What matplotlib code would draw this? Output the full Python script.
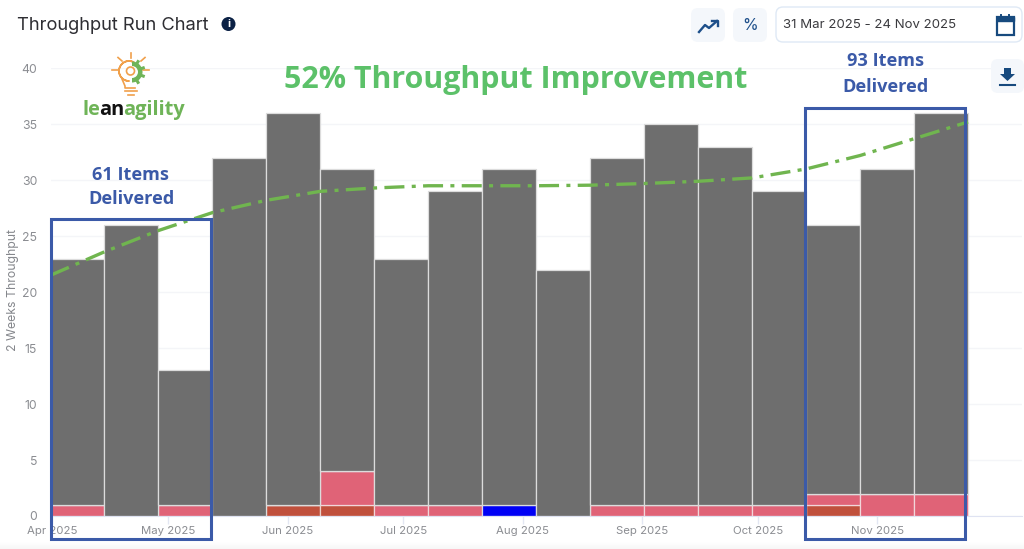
import matplotlib
matplotlib.use("Agg")
import matplotlib.pyplot as plt
import matplotlib.dates as mdates
from matplotlib.patches import Rectangle, FancyBboxPatch, Circle, Wedge, Polygon
import numpy as np
import pandas as pd

period_starts = pd.date_range("2025-03-31", periods=17, freq="14D")
totals = [23, 26, 13, 32, 36, 31, 23, 29, 31, 22, 32, 35, 33, 29, 26, 31, 36]
dark_red = [0, 0, 0, 0, 1, 1, 0, 0, 0, 0, 0, 0, 0, 0, 1, 0, 0]
pink = [1, 0, 1, 0, 0, 3, 1, 1, 0, 0, 1, 1, 1, 1, 1, 2, 2]
blue = [0, 0, 0, 0, 0, 0, 0, 0, 1, 0, 0, 0, 0, 0, 0, 0, 0]
trend_dates = pd.date_range("2025-03-31", periods=18, freq="14D")
trend_values = [21.5, 23.6, 25.5, 27.1, 28.2, 29.0, 29.3, 29.5, 29.5, 29.5,
                29.55, 29.7, 29.9, 30.2, 31.0, 32.2, 33.7, 35.2]
y_ticks = [0, 5, 10, 15, 20, 25, 30, 35, 40]
month_ticks = ["2025-04-01", "2025-05-01", "2025-06-01", "2025-07-01",
               "2025-08-01", "2025-09-01", "2025-10-01", "2025-11-01"]
month_labels = ["Apr 2025", "May 2025", "Jun 2025", "Jul 2025",
                "Aug 2025", "Sep 2025", "Oct 2025", "Nov 2025"]

W, H = 1024, 549
plt.rcParams["font.family"] = ["Inter", "DejaVu Sans"]
fig = plt.figure(figsize=(W / 100, H / 100), dpi=100, facecolor="white")

L, R, T, B = 50.5, 1022, 68.2, 516
ax = fig.add_axes([L / W, 1 - B / H, (R - L) / W, (B - T) / H])
ax.set_facecolor("none")
ax.set_axisbelow(True)

starts = mdates.date2num(period_starts)
tot = np.array(totals)
dk, pk, bl = np.array(dark_red), np.array(pink), np.array(blue)
rest = tot - dk - pk - bl
kw = dict(width=14, align="edge", linewidth=0.9)
ax.bar(starts, dk, color="#c0503c", edgecolor="#ecd0c8", **kw)
ax.bar(starts, pk, bottom=dk, color="#e06377", edgecolor="#f2d6da", **kw)
ax.bar(starts, bl, bottom=dk + pk, color="#0000f5", edgecolor="#d8d8e8", **kw)
ax.bar(starts, rest, bottom=dk + pk + bl, color="#6e6e6e", edgecolor="#dcdcdc", **kw)

ax.plot(mdates.date2num(trend_dates), trend_values, color="#70b54f", lw=2.4,
        ls=(0, (6, 2.2, 1.2, 2.2)), zorder=5)

ax.set_xlim(starts[0], starts[0] + 14 * 18)
ax.set_ylim(0, 40)
ax.set_yticks(y_ticks)
ax.grid(axis="y", color="#f4f5f8", lw=1)
tick_pos = mdates.date2num(pd.to_datetime(month_ticks) - pd.Timedelta(hours=12))
ax.set_xticks(tick_pos)
ax.set_xticklabels(month_labels, fontsize=8.2, color="#8b8d92")
ax.tick_params(axis="x", length=6, width=1, color="#e3e7f3", pad=1.5)
ax.tick_params(axis="y", length=0, pad=9.5, labelsize=8.8, labelcolor="#8b8d92")
for s in ["top", "left", "right"]:
    ax.spines[s].set_visible(False)
ax.spines["bottom"].set_color("#dfe3f2")
ax.set_ylabel("2 Weeks Throughput", fontsize=8.8, color="#85878c")
ax.yaxis.set_label_coords((19 - L) / (R - L), 0.505)

# Overlay in image pixels for page furniture and annotations
ov = fig.add_axes([0, 0, 1, 1], zorder=10)
ov.axis("off")
ov.patch.set_alpha(0)

# soft bottom edge of the page
grad = np.linspace(1, 0.965, 8)[:, None]
ov.imshow(grad, extent=(0, W, H, 541), cmap="gray", vmin=0, vmax=1, aspect="auto", zorder=0)
ov.set_xlim(0, W)
ov.set_ylim(H, 0)

box_c = "#3b5aa8"
for x0, y0, x1, y1 in [(51, 219, 211, 539), (805, 108, 965, 539)]:
    ov.add_patch(Rectangle((x0, y0), x1 - x0, y1 - y0, fill=False, ec=box_c, lw=2.2, zorder=6))

note = ["Open Sans", "DejaVu Sans"]
for x, y, s in [(131, 174.5, "61 Items"), (131, 199.5, "Delivered"), (885.5, 60.5, "93 Items"), (885.5, 86.5, "Delivered")]:
    ov.text(x, y, s, ha="center", va="center", fontsize=13.1, color=box_c, fontweight="bold", family=note)
ov.text(515.5, 80, "52% Throughput Improvement", ha="center", va="center", fontsize=21.9,
        color="#5cc169", fontweight="bold", family=note)

ov.text(17, 25.5, "Throughput Run Chart", ha="left", va="center", fontsize=13.2, color="#2e2e33")
ov.add_patch(Circle((228.5, 24), 7, fc="#0b2145", ec="none"))
ov.text(228.5, 24, "i", ha="center", va="center", fontsize=8, color="white", fontweight="bold")

# buttons
btn = "#f4f7fb"
for x, y, w, h in [(691, 8, 34, 34), (733, 8, 34, 34), (991, 59, 33, 34)]:
    ov.add_patch(FancyBboxPatch((x + 4, y + 4), w - 8, h - 8, boxstyle="round,pad=4,rounding_size=7", fc=btn, ec="none"))
ov.add_patch(FancyBboxPatch((780, 11), 238, 27, boxstyle="round,pad=4,rounding_size=7", fc="white", ec="#dfe9f5", lw=1))
ov.text(783, 25.5, "31 Mar 2025 - 24 Nov 2025", ha="left", va="center", fontsize=9.5, color="#3a3a3e")
ink = "#1d4f8a"
ov.plot([699, 705, 709, 717], [32, 25, 28, 21], color=ink, lw=1.7)
ov.plot([712, 718, 718], [20.5, 20.5, 26], color=ink, lw=1.7)
ov.text(750, 25, "%", ha="center", va="center", fontsize=11.5, color=ink)
dark_ink = "#174a7e"
ov.add_patch(Rectangle((996.5, 17), 17, 18, fc="white", ec=dark_ink, lw=1.6))
ov.add_patch(Rectangle((996.5, 17), 17, 4, fc=dark_ink, ec=dark_ink, lw=1))
ov.plot([1001, 1001], [15, 18], color=dark_ink, lw=1.4)
ov.plot([1009, 1009], [15, 18], color=dark_ink, lw=1.4)
ov.add_patch(Polygon([[1004, 68], [1011, 68], [1011, 74], [1015, 74], [1007.5, 81], [1000, 74], [1004, 74]], fc=dark_ink, ec="none"))
ov.plot([1000, 1015], [84.5, 84.5], color=dark_ink, lw=1.5)

# logo
org = "#f0a04b"
grn = "#6fb458"
ov.add_patch(Wedge((129, 71), 10, 90, 300, width=0.01, fc="none", ec=org, lw=1.2))
ov.plot([122, 125, 125, 135], [79, 86, 88, 88], color=org, lw=1.2)
ov.plot([125, 137], [91, 91], color=org, lw=1.2)
ov.plot([128, 134], [95, 95], color=org, lw=1.2)
for a, b, c, d in [(130.5, 53, 130.5, 58), (118, 57.5, 122, 61), (145, 57.5, 141, 61), (112, 70, 118, 70), (143, 70, 149, 70)]:
    ov.plot([a, c], [b, d], color=org, lw=1.2)
ov.add_patch(Wedge((132, 72), 10.5, -90, 90, width=4.5, fc=grn, ec="none"))
for ang in np.deg2rad([-60, -20, 20, 60]):
    ov.plot([132 + 9 * np.cos(ang), 132 + 12 * np.cos(ang)], [72 + 9 * np.sin(ang), 72 + 12 * np.sin(ang)], color=grn, lw=2.2)
ov.add_patch(Circle((130.5, 71), 4, fc="none", ec=org, lw=1.2))
logo = ["Open Sans", "DejaVu Sans"]
for x, s, c in [(83, "le", grn), (99, "an", "#111111"), (123.5, "agility", grn)]:
    ov.text(x, 110, s, ha="left", va="center", fontsize=14.4, fontweight="bold", color=c, family=logo)

fig.savefig("out.png", dpi=100)
